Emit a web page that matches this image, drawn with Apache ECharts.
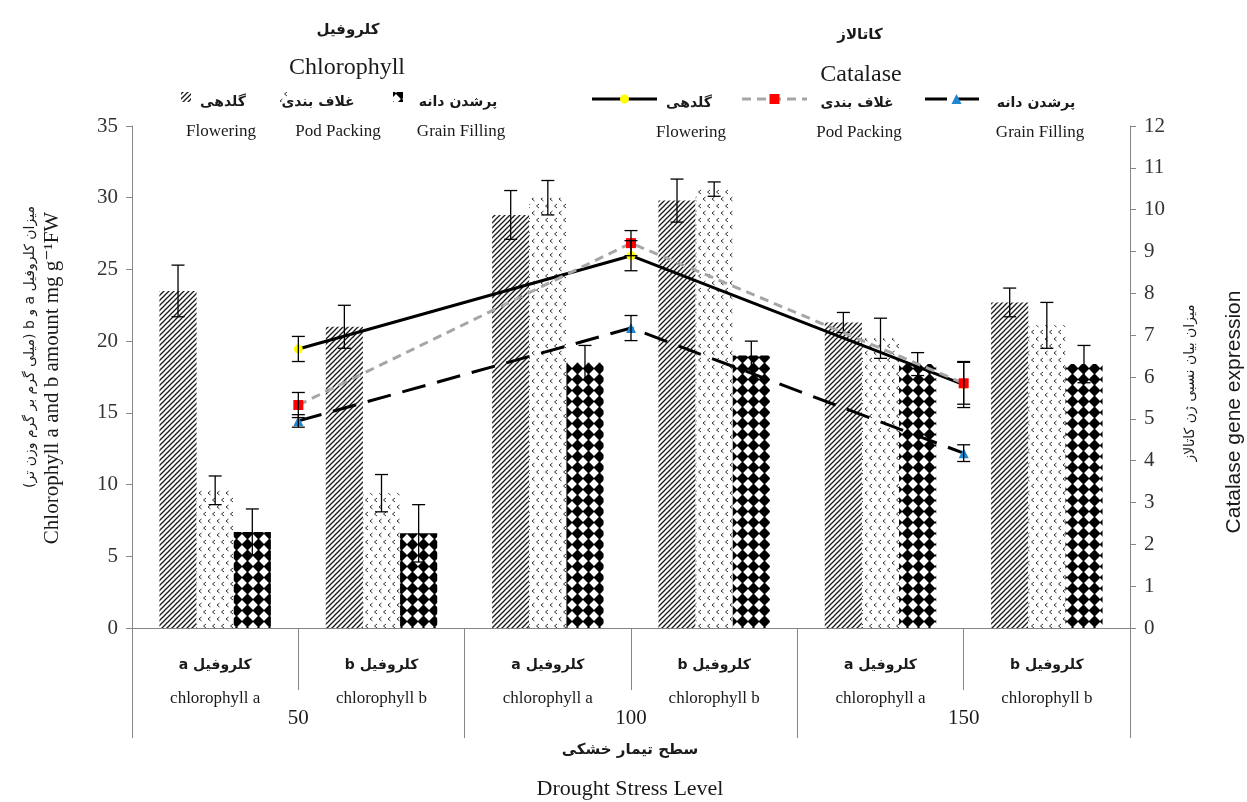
<!DOCTYPE html>
<html><head><meta charset="utf-8">
<script src="https://cdn.jsdelivr.net/npm/echarts@6/dist/echarts.min.js"></script>
<style>html,body{margin:0;padding:0;background:#fff}#c{width:1247px;height:802px}</style>
</head><body><div id="c"></div><script>
// ---------- data ----------
const catFa = ['کلروفیل a', 'کلروفیل b', 'کلروفیل a', 'کلروفیل b', 'کلروفیل a', 'کلروفیل b'];
const catEn = ['chlorophyll a', 'chlorophyll b', 'chlorophyll a', 'chlorophyll b', 'chlorophyll a', 'chlorophyll b'];
const levels = ['50', '100', '150'];
const stagesEn = ['Flowering', 'Pod Packing', 'Grain Filling'];
const stagesFa = ['گلدهی', 'غلاف بندی', 'پرشدن دانه'];
// chlorophyll (left axis, mg g-1 FW)
const chlFlowering = [23.5, 21.0, 28.8, 29.8, 21.3, 22.7];
const chlFloweringErr = [1.8, 1.5, 1.7, 1.5, 0.7, 1.0];
const chlPod = [9.6, 9.4, 30.0, 30.6, 20.2, 21.1];
const chlPodErr = [1.0, 1.3, 1.2, 0.5, 1.4, 1.6];
const chlGrain = [6.7, 6.6, 18.5, 19.0, 18.4, 18.4];
const chlGrainErr = [1.6, 2.0, 1.2, 1.0, 0.8, 1.3];
// catalase gene expression (right axis)
const catFlowering = [6.67, 8.9, 5.82];
const catFloweringErr = [0.3, 0.36, 0.55];
const catPod = [5.33, 9.2, 5.85];
const catPodErr = [0.3, 0.3, 0.5];
const catGrain = [4.95, 7.17, 4.18];
const catGrainErr = [0.15, 0.3, 0.2];
const leftTicks = {min: 0, max: 35, interval: 5};
const rightTicks = {min: 0, max: 12, interval: 1};

// ---------- helpers ----------
const RTL = s => '\u202B' + s + '\u202C';
const SERIF = '"Liberation Serif", "Times New Roman", "DejaVu Sans", serif';
const FA = '"DejaVu Sans", "Liberation Serif", sans-serif';
function mkCanvas(w, h, draw) {
  const c = document.createElement('canvas'); c.width = w; c.height = h;
  const g = c.getContext('2d'); g.fillStyle = '#fff'; g.fillRect(0, 0, w, h); draw(g); return c;
}
const hatchC = mkCanvas(5, 5, g => {
  g.strokeStyle = '#1a1a1a'; g.lineWidth = 1.3;
  [[-1, 6, 6, -1], [-1, 1, 1, -1], [4, 6, 6, 4]].forEach(a => { g.beginPath(); g.moveTo(a[0], a[1]); g.lineTo(a[2], a[3]); g.stroke(); });
});
const chevC = mkCanvas(9, 14, g => {
  g.strokeStyle = '#333'; g.lineWidth = 1;
  [[1, 3], [5.5, 10]].forEach(p => { g.beginPath(); g.moveTo(p[0] + 2.5, p[1] - 2); g.lineTo(p[0], p[1]); g.lineTo(p[0] + 2.5, p[1] + 2); g.stroke(); });
});
const diaC = mkCanvas(11, 11, g => {
  g.fillStyle = '#000'; g.beginPath();
  g.moveTo(5.5, -0.6); g.lineTo(11.6, 5.5); g.lineTo(5.5, 11.6); g.lineTo(-0.6, 5.5); g.closePath(); g.fill();
});
const pat = c => ({image: c, repeat: 'repeat'});
const patterns = [pat(hatchC), pat(chevC), pat(diaC)];

const GAP = 0.33;
function barErr(values, errs, idx) {
  return {
    type: 'custom', xAxisIndex: 0, yAxisIndex: 0, z: 6, silent: true,
    data: values.map((v, i) => [i, v, errs[i]]),
    encode: {x: 0, y: 1},
    renderItem: (params, api) => {
      const i = api.value(0), v = api.value(1), e = api.value(2);
      const band = api.size([1, 0])[0];
      const bw = band * (1 - GAP) / 3;
      const cx = api.coord([i, v])[0] + (idx - 1) * bw;
      const yt = api.coord([i, v + e])[1], yb = api.coord([i, v - e])[1];
      const hw = 6.5, st = {stroke: '#000', lineWidth: 1.3};
      return {type: 'group', children: [
        {type: 'line', shape: {x1: cx, y1: yt, x2: cx, y2: yb}, style: st},
        {type: 'line', shape: {x1: cx - hw, y1: yt, x2: cx + hw, y2: yt}, style: st},
        {type: 'line', shape: {x1: cx - hw, y1: yb, x2: cx + hw, y2: yb}, style: st}
      ]};
    }
  };
}
function lineErr(values, errs) {
  return {
    type: 'custom', xAxisIndex: 1, yAxisIndex: 1, z: 9, silent: true,
    data: values.map((v, i) => [i, v, errs[i]]),
    encode: {x: 0, y: 1},
    renderItem: (params, api) => {
      const i = api.value(0), v = api.value(1), e = api.value(2);
      const cx = api.coord([i, v])[0];
      const yt = api.coord([i, v + e])[1], yb = api.coord([i, v - e])[1];
      const hw = 6.5, st = {stroke: '#000', lineWidth: 1.3};
      return {type: 'group', children: [
        {type: 'line', shape: {x1: cx, y1: yt, x2: cx, y2: yb}, style: st},
        {type: 'line', shape: {x1: cx - hw, y1: yt, x2: cx + hw, y2: yt}, style: st},
        {type: 'line', shape: {x1: cx - hw, y1: yb, x2: cx + hw, y2: yb}, style: st}
      ]};
    }
  };
}

const barData = [chlFlowering, chlPod, chlGrain];
const barErrs = [chlFloweringErr, chlPodErr, chlGrainErr];
const lineData = [catFlowering, catPod, catGrain];
const lineErrs = [catFloweringErr, catPodErr, catGrainErr];
const lineStyles = [
  {color: '#000', width: 3, type: 'solid'},
  {color: '#a6a6a6', width: 3, type: [9, 6]},
  {color: '#000', width: 3, type: [24, 12]}
];
const markers = [
  {symbol: 'circle', size: 9, color: '#ffff00'},
  {symbol: 'rect', size: 10, color: '#ff0000'},
  {symbol: 'triangle', size: 10, color: '#1e88d2'}
];

const series = [];
barData.forEach((d, k) => series.push({
  type: 'bar', name: stagesEn[k], xAxisIndex: 0, yAxisIndex: 0, data: d, z: 2,
  barGap: '0%', barCategoryGap: (GAP * 100) + '%',
  itemStyle: {color: patterns[k]}
}));
barData.forEach((d, k) => series.push(barErr(d, barErrs[k], k)));
lineData.forEach((d, k) => series.push({
  type: 'line', name: 'cat ' + stagesEn[k], xAxisIndex: 1, yAxisIndex: 1, data: d, z: 8,
  lineStyle: lineStyles[k], symbol: markers[k].symbol, symbolSize: markers[k].size,
  itemStyle: {color: markers[k].color, borderWidth: 0}, showSymbol: true
}));
lineData.forEach((d, k) => series.push(lineErr(d, lineErrs[k])));

// ---------- legend / titles as graphics ----------
const g = [];
function txt(x, y, s, font, size, weight, extra) {
  g.push(Object.assign({type: 'text', x: x, y: y, style: {text: s, fontFamily: font, fontSize: size, fontWeight: weight || 'normal', fill: '#1a1a1a', align: 'center', verticalAlign: 'middle'}}, extra || {}));
}
txt(348, 30, RTL('کلروفیل'), FA, 15, 'bold');
txt(347, 68, 'Chlorophyll', SERIF, 24);
txt(860, 35, RTL('کاتالاز'), FA, 15, 'bold');
txt(861, 75, 'Catalase', SERIF, 24);
// chlorophyll legend
const chlIcon = [181, 279, 393];
const chlFaC = [223, 318, 458];
const chlEnC = [221, 338, 461];
for (let k = 0; k < 3; k++) {
  g.push({type: 'rect', shape: {x: chlIcon[k], y: 92, width: 10, height: 10}, style: {fill: patterns[k], stroke: null}});
  txt(chlFaC[k], 102, RTL(stagesFa[k]), FA, 14, 'bold');
  txt(chlEnC[k], 132, stagesEn[k], SERIF, 17);
}
// catalase legend
const catLine = [[592, 657], [742, 807], [925, 988]];
const catFaC = [689, 857, 1036];
const catEnC = [691, 859, 1040];
for (let k = 0; k < 3; k++) {
  const ls = lineStyles[k];
  g.push({type: 'line', shape: {x1: catLine[k][0], y1: 99, x2: catLine[k][1], y2: 99},
    style: {stroke: ls.color, lineWidth: 3, lineDash: ls.type === 'solid' ? null : (k === 1 ? [9, 6] : [22, 10])}});
  const mx = (catLine[k][0] + catLine[k][1]) / 2, m = markers[k];
  if (m.symbol === 'circle') g.push({type: 'circle', shape: {cx: mx, cy: 99, r: 4.5}, style: {fill: m.color}});
  else if (m.symbol === 'rect') g.push({type: 'rect', shape: {x: mx - 5, y: 94, width: 10, height: 10}, style: {fill: m.color}});
  else g.push({type: 'polygon', shape: {points: [[mx, 94], [mx + 5, 104], [mx - 5, 104]]}, style: {fill: m.color}});
  txt(catFaC[k], 103, RTL(stagesFa[k]), FA, 14, 'bold');
  txt(catEnC[k], 133, stagesEn[k], SERIF, 17);
}
// axis titles
txt(630, 750, RTL('سطح تیمار خشکی'), FA, 15, 'bold');
txt(630, 789, 'Drought Stress Level', SERIF, 22);
txt(30, 347, RTL('میزان کلروفیل a و b (میلی گرم بر گرم وزن تر)'), FA, 14, 'normal', {rotation: Math.PI / 2});
txt(52, 378, 'Chlorophyll a and b amount mg g\u207B\u00B9FW', SERIF, 21, 'normal', {rotation: Math.PI / 2});
txt(1190, 383, RTL('میزان بیان نسبی ژن کاتالاز'), FA, 14, 'normal', {rotation: Math.PI / 2});
txt(1234, 412, 'Catalase gene expression', '"Liberation Sans", Arial, sans-serif', 21, 'normal', {rotation: Math.PI / 2});

const axisGray = '#868686';
const option = {
  animation: false,
  backgroundColor: '#fff',
  grid: {left: 132, right: 117, top: 126, bottom: 174, containLabel: false},
  xAxis: [{
    type: 'category', data: catEn, position: 'bottom', gridIndex: 0,
    axisLine: {show: true, lineStyle: {color: axisGray, width: 1}},
    axisTick: {show: true, interval: 0, length: 62, lineStyle: {color: axisGray}},
    axisLabel: {
      interval: 0, margin: 22,
      formatter: (v, i) => '{fa|' + RTL(catFa[i]) + '}\n{en|' + catEn[i] + '}',
      rich: {
        fa: {fontFamily: FA, fontSize: 14, fontWeight: 'bold', color: '#1a1a1a', lineHeight: 30},
        en: {fontFamily: SERIF, fontSize: 17, color: '#1a1a1a', lineHeight: 38}
      }
    },
    splitLine: {show: false}
  }, {
    type: 'category', data: levels, position: 'bottom', gridIndex: 0, offset: 0,
    axisLine: {show: false},
    axisTick: {show: true, interval: 0, length: 110, lineStyle: {color: axisGray}},
    axisLabel: {interval: 0, margin: 80, fontFamily: SERIF, fontSize: 21, color: '#1a1a1a'},
    splitLine: {show: false}
  }],
  yAxis: [{
    type: 'value', position: 'left', min: leftTicks.min, max: leftTicks.max, interval: leftTicks.interval,
    axisLine: {show: true, lineStyle: {color: axisGray}},
    axisTick: {show: true, length: 6, lineStyle: {color: axisGray}},
    axisLabel: {fontFamily: SERIF, fontSize: 21, color: '#333', margin: 14},
    splitLine: {show: false}
  }, {
    type: 'value', position: 'right', min: rightTicks.min, max: rightTicks.max, interval: rightTicks.interval,
    axisLine: {show: true, lineStyle: {color: axisGray}},
    axisTick: {show: true, length: 6, lineStyle: {color: axisGray}},
    axisLabel: {fontFamily: SERIF, fontSize: 21, color: '#333', margin: 14},
    splitLine: {show: false}
  }],
  series: series,
  graphic: g
};
const chart = echarts.init(document.getElementById('c'), null, {renderer: 'canvas'});
chart.setOption(option);
</script></body></html>
